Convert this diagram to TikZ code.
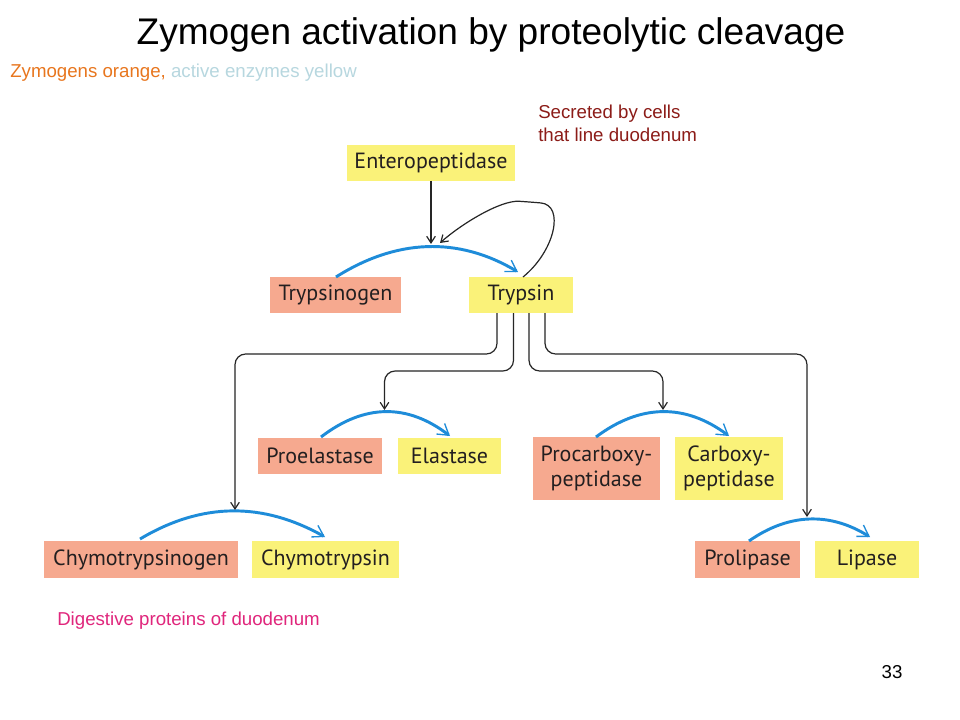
\documentclass[tikz,border=0pt]{standalone}
\usepackage{fontspec}
\setmainfont{Liberation Sans}
\newfontfamily\boxfont{PT Sans}
\usetikzlibrary{arrows.meta,calc}
\definecolor{ylw}{HTML}{FAF279}
\definecolor{salmon}{HTML}{F6A98F}
\definecolor{cblue}{HTML}{1E8CD9}
\definecolor{boxtxt}{HTML}{231F20}
\definecolor{orng}{HTML}{E8761E}
\definecolor{lblue}{HTML}{B7D7DF}
\definecolor{dred}{HTML}{8C1C18}
\definecolor{pink}{HTML}{E0267C}
\begin{document}
\begin{tikzpicture}[x=0.75pt,y=-0.75pt,
  box/.style={inner sep=0pt, outer sep=0pt, font=\boxfont\fontsize{16.5}{18.75}\selectfont, text=boxtxt, align=center, minimum height=27pt},
  zym/.style={box, fill=salmon},
  act/.style={box, fill=ylw},
  conn/.style={draw=black!85, line width=0.9pt, rounded corners=8pt, -{Straight Barb[length=5pt,width=6.5pt]}},
  cleave/.style={draw=cblue, line width=2.2pt, -{Straight Barb[length=8pt,width=10pt,line width=1pt]}},
  lbl/.style={inner sep=0pt, font=\fontsize{14}{17.25}\selectfont, align=left}]
\useasboundingbox (0,0) rectangle (960,720);
\fill[white] (0,0) rectangle (960,720);

% titles
\node[inner sep=0pt, font=\fontsize{27.8}{32}\selectfont] (title) at (491,35) {Zymogen activation by proteolytic cleavage};
\node[lbl, anchor=west] (sub) at (10,73) {\textcolor{orng}{Zymogens orange,} \textcolor{lblue}{active enzymes yellow}};
\node[lbl, anchor=west, text=dred] (sec) at (538,123.5) {Secreted by cells\\that line duodenum};
\node[lbl, anchor=west, text=pink] (dig) at (57,621) {Digestive proteins of duodenum};
\node[lbl] (num) at (892,672) {33};

% boxes
\node[act, minimum width=126pt] (ep) at (431,163) {Enteropeptidase};
\node[zym, minimum width=98.25pt] (tg) at (335.5,295) {Trypsinogen};
\node[act, minimum width=78pt] (tr) at (521,295) {Trypsin};
\node[zym, minimum width=93pt] (pe) at (320,456) {Proelastase};
\node[act, minimum width=77.25pt] (el) at (449.5,456) {Elastase};
\node[zym, minimum width=95.25pt, minimum height=47.25pt] (pc) at (596.5,468.5) {Procarboxy-\\peptidase};
\node[act, minimum width=81pt, minimum height=47.25pt] (cp) at (729,468.5) {Carboxy-\\peptidase};
\node[zym, minimum width=145.5pt, minimum height=27.75pt] (ctg) at (141,559.5) {Chymotrypsinogen};
\node[act, minimum width=110.25pt, minimum height=27.75pt] (ct) at (325.5,559.5) {Chymotrypsin};
\node[zym, minimum width=78.75pt, minimum height=27.75pt] (pl) at (747.5,559.5) {Prolipase};
\node[act, minimum width=78pt, minimum height=27.75pt] (li) at (867,559.5) {Lipase};

% arc peaks (targets of activating arrows)
\coordinate (k0) at (431,244);
\coordinate (k1) at (235,510);
\coordinate (k2) at (384.5,410);
\coordinate (k3) at (663,410);
\coordinate (k4) at (807,517);

% cleavage arcs
\draw[cleave] ($(tg.north west)+(66,0)$) .. controls +(60,-38) and +(-60,-36) .. ($(tr.north west)+(49,-5)$);
\draw[cleave] ($(pe.north west)+(63,-1)$) .. controls +(43,-33) and +(-43,-33) .. ($(el.north west)+(52,-2)$);
\draw[cleave] ($(pc.north west)+(63,0)$) .. controls +(44,-33) and +(-44,-33) .. ($(cp.north west)+(54,-1)$);
\draw[cleave] ($(ctg.north west)+(96,-2)$) .. controls +(62,-37) and +(-62,-35) .. ($(ct.north west)+(73,-4)$);
\draw[cleave] ($(pl.north west)+(54,0)$) .. controls +(40,-28) and +(-40,-25) .. ($(li.north west)+(55,-4)$);

% activating arrows
\draw[conn] (ep.south) -- (k0);
\draw[conn] ($(tr.north west)+(54,0)$) .. controls +(32,-26) and +(35,3) .. (530,202)
   .. controls +(-30,-2) and +(20,-18) .. ($(k0)+(9,-1)$);
\draw[conn] ($(tr.south west)+(28,0)$) -- ($(tr.south west)+(28,41)$) -| (k1);
\draw[conn] ($(tr.south west)+(44.5,0)$) -- ($(tr.south west)+(44.5,58)$) -| (k2);
\draw[conn] ($(tr.south west)+(60,0)$) -- ($(tr.south west)+(60,58)$) -| (k3);
\draw[conn] ($(tr.south west)+(76,0)$) -- ($(tr.south west)+(76,41)$) -| (k4);
\end{tikzpicture}
\end{document}
